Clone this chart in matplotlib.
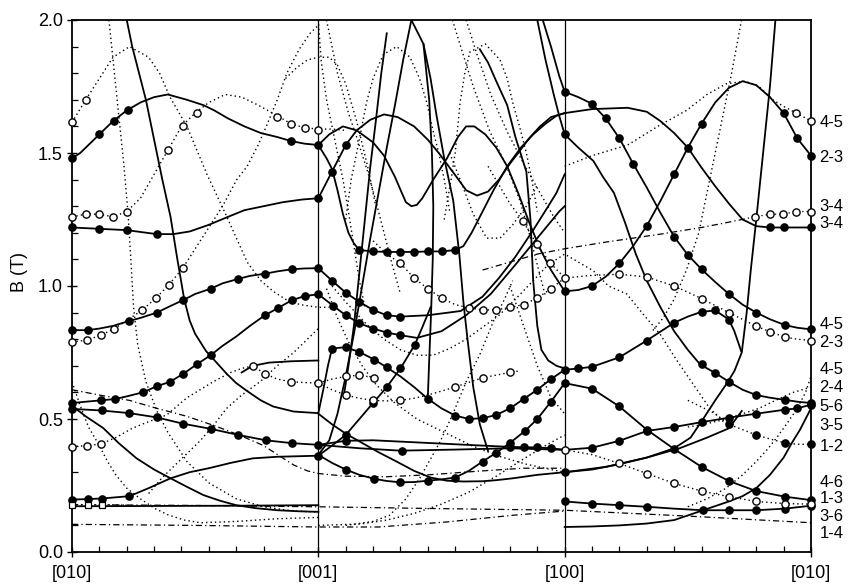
import matplotlib
matplotlib.use("Agg")
import matplotlib.pyplot as plt
from matplotlib.ticker import MultipleLocator, FixedLocator

plt.rcParams['font.family'] = ['Liberation Sans', 'DejaVu Sans']

# kąt w stopniach: [010]=0, [001]=90, [100]=180, [010]=270 ; B w teslach
tick_pos = [0, 90, 180, 270]
tick_txt = ["[010]", "[001]", "[100]", "[010]"]

# --- linie ciągłe (symulacja) ---
s_23 = [(0, 1.48), (3, 1.50), (6, 1.53), (10, 1.57), (15, 1.62), (20, 1.66), (25, 1.69), (30, 1.71), (35, 1.72),
        (42, 1.70), (48, 1.68), (52, 1.66), (57, 1.63), (63, 1.60), (69, 1.575), (75, 1.56), (80, 1.545), (85, 1.535),
        (90, 1.53), (94, 1.57), (99, 1.60), (104, 1.585), (110, 1.54), (114, 1.49), (118, 1.41), (120.5, 1.35),
        (122, 1.315), (124, 1.30), (126, 1.305), (128, 1.33), (132, 1.40), (137, 1.48), (141, 1.56), (144, 1.60),
        (147, 1.60), (151, 1.57), (155, 1.52), (159, 1.45), (163, 1.35), (167, 1.24), (171, 1.14), (175, 1.06),
        (180, 0.98), (185, 0.985), (190, 1.0), (195, 1.035), (200, 1.085), (205, 1.15), (210, 1.226), (215, 1.32),
        (220, 1.42), (225, 1.52), (230, 1.61), (235, 1.69), (240, 1.745), (245, 1.77), (250, 1.755), (255, 1.71),
        (260, 1.65), (265, 1.555), (270, 1.49)]
s_34 = [(0, 1.22), (10, 1.215), (20, 1.21), (31, 1.195), (37, 1.195), (43, 1.205), (50, 1.23), (57, 1.26), (63, 1.285),
        (70, 1.30), (77, 1.315), (84, 1.325), (90, 1.33), (95, 1.43), (100, 1.53), (104, 1.585), (109, 1.625),
        (114, 1.645), (119, 1.635), (125, 1.60), (130, 1.55), (134, 1.50), (140.5, 1.41), (144, 1.36), (148, 1.34),
        (152, 1.355), (156, 1.40), (160, 1.46), (163, 1.50), (167, 1.555), (171, 1.60), (175, 1.635), (180, 1.65),
        (190, 1.665), (203, 1.67), (210, 1.655), (215, 1.62), (220, 1.575), (225, 1.52), (230, 1.445), (235, 1.375),
        (240, 1.31), (245, 1.25), (250, 1.225), (255, 1.22), (260, 1.22), (270, 1.22)]
s_row = [(90, 1.53), (93, 1.48), (95, 1.44), (97, 1.36), (99, 1.27), (101, 1.20), (103, 1.16), (105, 1.135), (110, 1.13),
         (115, 1.128), (120, 1.128), (125, 1.128), (130, 1.13), (135, 1.13), (140, 1.135), (143, 1.15), (146, 1.20),
         (149, 1.26), (154, 1.36), (159, 1.45), (164, 1.52), (168.5, 1.57), (173, 1.61), (177, 1.64), (180, 1.65)]
s_45m = [(0, 0.834), (5.7, 0.834), (10, 0.84), (15, 0.85), (20.7, 0.868), (25, 0.88), (31, 0.90), (36, 0.925),
         (40.6, 0.947), (45, 0.97), (50.7, 0.99), (55, 1.01), (60.5, 1.026), (65, 1.038), (70.4, 1.046), (75, 1.055),
         (80.4, 1.063), (85, 1.066), (90, 1.067), (95, 1.02), (100, 0.975), (105, 0.94), (110, 0.91), (115, 0.89),
         (120, 0.885), (130, 0.89), (142, 0.906), (150, 0.96), (156, 1.03), (162, 1.11), (168.5, 1.21), (174, 1.30),
         (177, 1.35), (180, 1.42)]
s_24 = [(0, 0.56), (5, 0.565), (10.5, 0.57), (15.7, 0.575), (20, 0.585), (25.8, 0.60), (31, 0.623), (35.8, 0.64),
        (40.7, 0.67), (45.5, 0.705), (50.7, 0.74), (55, 0.775), (60, 0.81), (65, 0.85), (70.5, 0.89), (75.4, 0.918),
        (80.4, 0.947), (85, 0.962), (90, 0.969), (95.5, 0.925), (100, 0.89), (105, 0.86), (110, 0.84), (115, 0.825),
        (120, 0.815), (126, 0.805), (135, 0.83), (144, 0.89), (153, 0.97), (162, 1.08), (170, 1.18), (178, 1.28),
        (180, 1.30)]
s_steep = [(20, 2.0), (22, 1.90), (24.5, 1.80), (27, 1.70), (30, 1.55), (33, 1.40), (36, 1.26), (38.5, 1.10),
           (41, 0.95), (43, 0.87), (45, 0.82), (49, 0.755), (53, 0.71), (56.5, 0.67), (60, 0.635), (64, 0.605),
           (69, 0.57), (73.5, 0.547), (81, 0.528), (90, 0.522), (92, 0.62), (93.5, 0.70), (95, 0.765), (100, 0.77),
           (105, 0.752), (110.5, 0.723), (115, 0.694), (120, 0.66), (125, 0.62), (130, 0.576), (135, 0.54),
           (140, 0.513), (145, 0.50), (150, 0.503), (155, 0.515), (160, 0.54), (165, 0.575), (170, 0.61), (175, 0.65),
           (180, 0.685), (185, 0.69), (190, 0.696), (200, 0.732), (210, 0.795), (220, 0.862), (225, 0.885),
           (230, 0.903), (235, 0.908), (240, 0.874), (242, 0.83), (244.5, 0.755)]
s_56 = [(0, 0.538), (10.8, 0.532), (21, 0.522), (31, 0.506), (40.7, 0.482), (50.7, 0.463), (60.8, 0.44), (70.8, 0.42),
        (80.5, 0.409), (90, 0.403), (100, 0.418), (110, 0.42), (120, 0.415), (130, 0.41), (140, 0.405), (150, 0.40),
        (160, 0.395), (170, 0.393), (175, 0.39), (180, 0.384), (190, 0.392), (200, 0.418), (210, 0.455), (220, 0.47),
        (230, 0.488), (240, 0.505), (250, 0.52), (260.5, 0.535), (265, 0.54), (270, 0.554)]
s_56b = [(90, 0.403), (105, 0.39), (120, 0.381), (140, 0.385), (160, 0.39), (180, 0.384)]
s_13 = [(0, 0.197), (5.7, 0.199), (10.8, 0.201), (21, 0.21), (28, 0.24), (36, 0.277), (43, 0.30), (50, 0.315),
        (58, 0.335), (66, 0.352), (75, 0.358), (90, 0.362), (95, 0.40), (100, 0.44), (105, 0.50), (110, 0.56),
        (115, 0.62), (120, 0.69), (125.3, 0.78), (128, 0.845), (131, 0.92)]
s_13b = [(90, 0.365), (95, 0.335), (100, 0.31), (105, 0.29), (110.5, 0.275), (115, 0.267), (120, 0.262), (125, 0.263),
         (130, 0.268), (135, 0.273), (140, 0.28), (145, 0.305), (150, 0.34), (155, 0.373), (160, 0.41),
         (165.5, 0.455), (170, 0.50), (175, 0.565), (180, 0.635), (190, 0.614), (200, 0.547), (210, 0.46),
         (220, 0.387), (230, 0.32), (240, 0.267), (250, 0.229), (260.5, 0.208), (270, 0.195)]
s_fall = [(0, 0.55), (5, 0.51), (11.4, 0.466), (17, 0.41), (23.6, 0.352), (30, 0.31), (36, 0.277), (42, 0.245),
          (48, 0.214), (54, 0.193), (60, 0.176), (67, 0.165), (75, 0.157), (83, 0.153), (90, 0.151)]
s_flat = [(0, 0.172), (30, 0.173), (60, 0.174), (90, 0.176)]
s_U = [(90, 0.52), (95, 0.48), (100, 0.445), (106, 0.41), (112, 0.375), (118.6, 0.34), (125, 0.305), (131, 0.28),
       (137, 0.268), (143, 0.265), (150, 0.266), (155, 0.27), (161, 0.277), (170, 0.29), (180, 0.30), (190, 0.31),
       (200, 0.33), (210, 0.355), (220, 0.39), (226, 0.43), (230.6, 0.50), (235, 0.57), (239, 0.63), (242, 0.68),
       (244.7, 0.75), (246.5, 0.9), (248, 1.06), (250, 1.25), (252.5, 1.5), (255, 1.75), (257, 2.0)]
s_short3 = [(180, 0.30), (195, 0.32), (210, 0.355), (222, 0.39), (232, 0.43), (240, 0.465), (244.7, 0.53)]
s_up3 = [(180, 0.094), (190, 0.096), (200, 0.10), (210, 0.107), (220, 0.12), (230, 0.155), (240, 0.19), (245, 0.21),
         (250, 0.24), (255, 0.29), (260, 0.355), (263, 0.41), (266, 0.46), (270, 0.54)]
s_bot3 = [(180, 0.19), (190, 0.182), (200, 0.176), (210, 0.17), (220, 0.163), (230.4, 0.157), (240, 0.157),
          (250, 0.157), (260.5, 0.163), (270, 0.174)]
s_short1 = [(62, 0.675), (66, 0.70), (72, 0.712), (80, 0.717), (90, 0.72)]
s_top_a = [(172, 2.0), (175, 1.9), (178, 1.79), (180, 1.73), (185, 1.71), (190, 1.685), (195, 1.63), (200, 1.555),
           (205, 1.46), (210, 1.37), (215, 1.275), (220, 1.185), (225, 1.117), (230, 1.063), (235, 1.015),
           (240, 0.97), (245, 0.93), (250, 0.90), (255, 0.875), (260.5, 0.853), (265, 0.843), (270, 0.837)]
s_top_b = [(170, 2.0), (173, 1.85), (176, 1.72), (178, 1.64), (180, 1.57), (185, 1.52), (190.5, 1.47), (194, 1.41),
           (198, 1.35), (202, 1.24), (206, 1.12), (210, 1.02), (215, 0.92), (220, 0.83), (225, 0.76), (229.5, 0.705),
           (235, 0.673), (240, 0.64), (245, 0.61), (250, 0.59), (255, 0.58), (260.5, 0.572), (265, 0.565), (270, 0.56)]
s_L0 = [(115, 1.95), (113, 1.80), (111, 1.62), (109, 1.45), (107.5, 1.30), (106, 1.15), (104.5, 1.0), (103, 0.85),
        (101, 0.70), (99.5, 0.60)]
s_L1 = [(124, 2.0), (121, 1.85), (118, 1.68), (115, 1.52), (112, 1.35), (109, 1.18), (106, 1.0), (103, 0.82),
        (100, 0.66), (97, 0.52), (94, 0.42), (90, 0.365)]
s_V2 = [(124, 2.0), (128.4, 1.91), (131, 1.78), (133.2, 1.64), (136, 1.48), (139.3, 1.32), (141.5, 1.12), (143, 0.94),
        (144.5, 0.80), (146.6, 0.62), (149, 0.48), (152, 0.38)]
s_V1 = [(128.4, 1.91), (130.5, 1.70), (131.5, 1.50), (132, 1.30), (131.8, 1.10), (131.2, 0.90), (130.5, 0.72),
        (130, 0.58)]
s_R1 = [(149, 1.89), (152, 1.84), (155, 1.77), (159, 1.68), (162, 1.56), (166, 1.43), (167.5, 1.25), (168.5, 1.02),
        (170, 0.85), (171.5, 0.76), (174, 0.72), (177, 0.70), (180, 0.69)]

# --- linie kropkowane ---
d_45 = [(0, 1.615), (5, 1.70), (10, 1.78), (15, 1.86), (21, 1.90), (28, 1.86), (32, 1.80), (35.8, 1.71), (42, 1.60),
        (49.3, 1.42), (56.6, 1.26), (64, 1.09), (69, 1.02), (73.5, 0.98), (78, 0.95), (83.3, 0.93), (90, 0.92),
        (94, 0.92)]
d_34 = [(0, 1.26), (5, 1.27), (10, 1.27), (15, 1.26), (20, 1.28), (25, 1.33), (30, 1.42), (35, 1.51), (40, 1.60),
        (45, 1.65), (50, 1.69), (56, 1.72), (62, 1.71), (68, 1.68), (75, 1.64), (80, 1.61), (85, 1.595), (90, 1.59),
        (95, 1.59), (100, 1.585)]
d_23 = [(0, 0.79), (5.4, 0.796), (10.5, 0.815), (15.5, 0.84), (20, 0.87), (25.7, 0.91), (30.7, 0.955), (35.4, 1.005),
        (40.4, 1.066), (45, 1.14), (50, 1.22), (55, 1.30), (60.2, 1.40), (64, 1.45), (68, 1.53), (71, 1.60),
        (75, 1.70), (78.5, 1.80), (83, 1.89), (87, 1.95), (90, 1.98)]
d_45low = [(0, 0.396), (5.4, 0.40), (10.5, 0.406), (16, 0.43), (22, 0.465), (28, 0.49), (34.6, 0.515), (42, 0.58),
           (51.6, 0.64), (58, 0.675), (62, 0.69), (66, 0.70), (70.5, 0.67), (75, 0.65), (80, 0.64), (85, 0.637),
           (90, 0.635), (95, 0.61), (100, 0.59), (105, 0.578), (110, 0.57), (115, 0.568), (120, 0.57), (125, 0.578),
           (130, 0.59), (135, 0.605), (140, 0.62), (145, 0.638), (150, 0.655), (155, 0.665), (160, 0.675),
           (163, 0.68)]
d_oc1 = [(90, 0.635), (95, 0.65), (100, 0.66), (105, 0.665), (110.5, 0.655)]
d_23b = [(110, 1.17), (115, 1.12), (120, 1.085), (125, 1.03), (130, 0.99), (135, 0.955), (140, 0.93), (145, 0.918),
         (150, 0.91), (155, 0.91), (160, 0.92), (165, 0.93), (170, 0.955), (175, 0.99), (180, 1.03), (190, 1.04),
         (200, 1.044), (210, 1.034), (220, 1.0), (230, 0.953), (240, 0.90), (250, 0.849), (255, 0.828),
         (260.5, 0.808), (265, 0.80), (270, 0.795)]
d_23c = [(152, 1.45), (156, 1.38), (160, 1.31), (164.7, 1.245), (169.8, 1.157), (174.6, 1.088), (180, 1.03)]
d_45_3 = [(180, 1.45), (190, 1.49), (203, 1.53), (214, 1.60), (224.5, 1.66), (232, 1.72), (239, 1.76), (246, 1.77),
          (251, 1.75), (256, 1.70), (260, 1.675), (264.7, 1.65), (270, 1.62)]
d_13_3 = [(180, 0.384), (190, 0.366), (200, 0.333), (210, 0.295), (220, 0.258), (230, 0.229), (240, 0.208),
          (250, 0.19), (260.5, 0.182), (270, 0.18)]
d_12 = [(225, 0.57), (230, 0.545), (235, 0.52), (240, 0.48), (245, 0.46), (250, 0.44), (255, 0.425), (260.5, 0.41),
        (265, 0.405), (270, 0.405)]
d_sq = [(0, 0.178), (5.7, 0.178), (10.8, 0.178), (20, 0.176)]
d_a = [(0, 0.64), (3, 0.55), (6, 0.47), (10, 0.40), (13, 0.34), (16, 0.29), (20, 0.24), (25, 0.20), (30, 0.165),
       (35, 0.14), (41, 0.12), (47, 0.11), (60, 0.115), (75, 0.125), (90, 0.13)]
d_b = [(13.5, 2.0), (15, 1.85), (17, 1.65), (19, 1.45), (20.5, 1.27), (21.5, 1.10), (22.5, 0.92), (24, 0.78),
       (27, 0.64), (31, 0.53), (35, 0.45), (42, 0.34), (50, 0.26), (60, 0.2), (70, 0.17), (80, 0.155), (90, 0.15)]
d_f = [(28, 0.22), (33, 0.28), (40, 0.35), (47, 0.42), (52, 0.48), (56.5, 0.54), (62, 0.59), (68.7, 0.64),
       (75, 0.70), (81, 0.75), (86, 0.80), (90, 0.84)]
d_p1 = [(100, 1.25), (102, 1.40), (104, 1.50), (107.6, 1.69), (110, 1.78), (113.7, 1.87), (118.6, 1.90),
        (123.5, 1.86), (127, 1.78), (129.6, 1.69), (132, 1.58), (134, 1.50), (136, 1.40), (138, 1.28)]
d_p2 = [(136, 1.25), (138.5, 1.40), (140, 1.50), (141.8, 1.69), (143.5, 1.80), (145.4, 1.88), (151, 1.91),
        (156.4, 1.85), (159, 1.78), (161, 1.69), (163.5, 1.60), (166, 1.50), (168, 1.40), (170, 1.28)]
d_p3 = [(78, 1.78), (82, 1.82), (86, 1.85), (90, 1.86), (94, 1.86), (97, 1.83), (100, 1.76), (104, 1.62),
        (108, 1.45), (111, 1.30)]
d_s1 = [(90, 2.0), (91, 1.85), (93, 1.70), (96, 1.55), (99, 1.40), (101, 1.28), (103, 1.15), (105, 1.02),
        (107, 0.92)]
d_s2 = [(93, 2.0), (95, 1.90), (97, 1.80), (101, 1.65), (104, 1.56), (108, 1.43), (111, 1.32), (114, 1.20),
        (117, 1.08), (120, 0.97)]
d_s3 = [(139, 2.0), (142, 1.90), (146.6, 1.75), (152.7, 1.58), (158.8, 1.45), (163.7, 1.32), (167, 1.20),
        (170, 1.08), (173, 0.96)]
d_s4 = [(144, 2.0), (148, 1.87), (153, 1.72), (159, 1.58), (165, 1.46), (171, 1.35), (176, 1.26), (180, 1.20)]
d_u1 = [(138, 1.50), (141.8, 1.40), (146.6, 1.27), (151.5, 1.18), (156.4, 1.18), (161, 1.23), (166, 1.30),
        (170, 1.38)]
d_u2 = [(95, 1.0), (100, 0.94), (107.7, 0.855), (114, 0.80), (120, 0.76), (126, 0.74), (132, 0.74), (138, 0.765),
        (144, 0.80), (150, 0.845), (156, 0.89), (162, 0.95), (168.5, 1.02), (174, 1.08), (180, 1.12), (185, 1.09),
        (190.5, 1.057), (196, 1.0), (202.7, 0.97), (209, 0.89), (214.8, 0.82), (221, 0.72), (227, 0.63),
        (233, 0.54), (238, 0.49)]
d_r1 = [(100, 0.10), (110, 0.115), (116, 0.138), (122, 0.2), (127, 0.277), (131, 0.35), (134.5, 0.415),
        (139, 0.515), (144, 0.64), (149, 0.742), (154, 0.868), (158, 0.95), (161, 1.02)]
d_r2 = [(93, 0.99), (97, 0.88), (101, 0.79), (106, 0.70), (111, 0.63), (118, 0.56), (126, 0.50), (136, 0.45),
        (146, 0.40), (156, 0.36), (166, 0.33), (175, 0.31), (180, 0.30)]
d_r3 = [(160, 1.0), (165, 0.85), (170, 0.70), (175, 0.58), (180, 0.52)]
d_r4 = [(90, 0.10), (105, 0.105), (115, 0.12), (125, 0.145), (135, 0.18), (145, 0.225), (155, 0.285), (165, 0.35),
        (173, 0.40), (180, 0.44)]
d_t1 = [(244.6, 2.0), (241, 1.80), (237, 1.60), (233, 1.40), (229, 1.20), (224.5, 1.06), (220, 0.95), (216, 0.88),
        (212, 0.83)]
d_t4 = [(225, 0.47), (231, 0.48), (239, 0.50), (245, 0.52), (251, 0.54), (257, 0.57), (263.5, 0.60), (270, 0.62)]
d_t7 = [(225, 0.17), (232, 0.20), (239, 0.24), (245, 0.29), (250, 0.34), (254, 0.385), (257.5, 0.43), (261, 0.48),
        (265, 0.54), (268, 0.60), (270, 0.66)]

# --- linie kreska-kropka ---
dd_1 = [(0, 0.104), (45, 0.10), (90, 0.094), (112, 0.094), (137, 0.113), (161, 0.138), (180, 0.154)]
dd_2 = [(0, 0.178), (45, 0.175), (90, 0.17), (135, 0.163), (180, 0.157), (225, 0.135), (270, 0.11)]
dd_3 = [(0, 0.61), (10, 0.59), (21, 0.57), (31, 0.54), (42, 0.51), (52, 0.475), (61, 0.44), (70, 0.40), (76, 0.36),
        (81, 0.327), (86, 0.305), (90, 0.295), (100, 0.285), (115, 0.283), (130, 0.29), (150, 0.305), (165, 0.315),
        (180, 0.315)]
dd_34 = [(150, 1.06), (160, 1.09), (170, 1.12), (180, 1.14), (195, 1.165), (215, 1.195), (230, 1.22), (240, 1.24),
         (249.5, 1.26), (255, 1.27), (259.6, 1.27), (264.7, 1.28), (270, 1.28)]

# --- punkty pomiarowe ---
dots_full = [(0, 1.48), (10, 1.57), (15.5, 1.62), (20.5, 1.66), (80, 1.545), (90, 1.53), (180, 0.98), (190, 1.0),
             (200, 1.085), (210, 1.226), (220, 1.42), (225, 1.52), (230, 1.61), (260, 1.65), (265, 1.555), (270, 1.49),
             (0, 1.22), (10, 1.215), (20, 1.21), (31, 1.195), (90, 1.33), (95, 1.43), (100, 1.53), (255, 1.22),
             (260, 1.22), (270, 1.22),
             (105, 1.135), (110, 1.13), (115, 1.128), (120, 1.128), (125, 1.128), (130, 1.13), (135, 1.13),
             (140, 1.135),
             (0, 0.834), (5.7, 0.834), (20.7, 0.868), (31, 0.90), (40.6, 0.947), (50.7, 0.99), (60.5, 1.026),
             (70.4, 1.046), (80.4, 1.063), (90, 1.067), (95, 1.02), (100, 0.975), (105, 0.94), (110, 0.91),
             (115, 0.89), (120, 0.885),
             (0, 0.56), (10.5, 0.57), (15.7, 0.575), (25.8, 0.60), (31, 0.623), (35.8, 0.64), (40.7, 0.67),
             (45.5, 0.705), (50.7, 0.74), (70.5, 0.89), (75.4, 0.918), (80.4, 0.947), (85, 0.962), (90, 0.969),
             (95.5, 0.925), (100, 0.89), (105, 0.86), (110, 0.84), (115, 0.825), (120, 0.815),
             (95, 0.765), (100, 0.77), (105, 0.752), (110.5, 0.723), (115, 0.694), (130, 0.576), (140, 0.513),
             (145, 0.50), (150, 0.503), (155, 0.515), (160, 0.54), (165, 0.575), (170, 0.61), (175, 0.65),
             (180, 0.685), (185, 0.69), (190, 0.696), (200, 0.732), (210, 0.795), (220, 0.862), (230, 0.903),
             (235, 0.908), (240, 0.874),
             (0, 0.538), (10.8, 0.532), (21, 0.522), (31, 0.506), (40.7, 0.482), (50.7, 0.463), (60.8, 0.44),
             (70.8, 0.42), (80.5, 0.409), (90, 0.403), (100, 0.418), (120.5, 0.381), (160, 0.395), (165, 0.394),
             (170, 0.393), (175, 0.39), (190, 0.392), (200, 0.418), (210, 0.455), (220, 0.47), (230, 0.488),
             (240, 0.505), (250, 0.52), (260.5, 0.535), (265, 0.54), (270, 0.554),
             (0, 0.197), (5.7, 0.199), (10.8, 0.201), (21, 0.21), (90, 0.362), (100, 0.44), (110, 0.56), (115, 0.62),
             (120, 0.69), (125.3, 0.78),
             (100, 0.31), (110.5, 0.275), (120, 0.262), (130, 0.268), (140, 0.28), (150, 0.34), (155, 0.373),
             (160, 0.41), (165.5, 0.455), (170, 0.50), (175, 0.565), (180, 0.635), (190, 0.614), (200, 0.547),
             (210, 0.46), (220, 0.387), (230, 0.32), (240, 0.267), (250, 0.229), (260.5, 0.208), (270, 0.195),
             (180, 1.73), (190, 1.685), (195, 1.63), (200, 1.555), (205, 1.46), (220, 1.185), (225, 1.117),
             (230, 1.063), (240, 0.97), (250, 0.90), (260.5, 0.853), (270, 0.837),
             (180, 1.57), (230, 0.705), (235, 0.673), (240, 0.64), (250, 0.59), (260.5, 0.572), (270, 0.56),
             (240, 0.48), (250, 0.44), (260.5, 0.41), (270, 0.405),
             (180, 0.19), (190, 0.182), (200, 0.176), (210, 0.17), (230.4, 0.157), (240, 0.157), (250, 0.157),
             (260.5, 0.163), (270, 0.174), (180, 0.30)]
dots_open = [(0, 1.615), (5, 1.70), (264.7, 1.65), (270, 1.62),
             (0, 1.26), (5, 1.27), (10, 1.27), (15, 1.26), (20, 1.28), (35.2, 1.51), (40.4, 1.60), (45.6, 1.65),
             (74.8, 1.635), (80, 1.61), (85, 1.594), (90, 1.587), (249.5, 1.26), (255, 1.27), (259.6, 1.27),
             (264.7, 1.28), (270, 1.28),
             (0, 0.79), (5.4, 0.796), (10.5, 0.815), (15.5, 0.84), (25.7, 0.91), (30.7, 0.955), (35.4, 1.005),
             (40.4, 1.066), (120, 1.085), (125, 1.03), (130, 0.99), (135, 0.955), (145, 0.918), (150, 0.91),
             (155, 0.91), (160, 0.92), (165, 0.93), (170, 0.955), (175, 0.99), (180, 1.03), (164.7, 1.245),
             (169.8, 1.157), (174.6, 1.088), (200, 1.044), (210, 1.034), (220, 1.0), (230, 0.953), (240, 0.90),
             (250, 0.849), (255, 0.828), (260.5, 0.808), (270, 0.795),
             (0, 0.396), (5.4, 0.40), (10.5, 0.406), (66, 0.70), (70.5, 0.67), (80, 0.64), (90, 0.635),
             (100, 0.66), (105, 0.665), (110.5, 0.655), (100, 0.59), (110, 0.57), (120, 0.57), (140, 0.62),
             (150, 0.655), (160, 0.675),
             (180, 0.384), (200, 0.333), (210, 0.295), (220, 0.258), (230, 0.229), (240, 0.208), (250, 0.19),
             (260.5, 0.182), (270, 0.18)]
dots_sq = [(0, 0.178), (5.7, 0.178), (10.8, 0.178)]

# podpisy przejść po prawej stronie
pair_labels = ["4-5", "2-3", "3-4", "3-4", "4-5", "2-3", "4-5", "2-4", "5-6", "3-5", "1-2", "4-6", "1-3", "3-6", "1-4"]
pair_b = [1.616, 1.483, 1.30, 1.235, 0.855, 0.789, 0.686, 0.619, 0.547, 0.475, 0.396, 0.26, 0.20, 0.132, 0.069]

solid_curves = [s_23, s_34, s_row, s_45m, s_24, s_steep, s_56, s_56b, s_13, s_13b, s_fall, s_flat, s_U, s_short3,
                s_up3, s_bot3, s_short1, s_top_a, s_top_b, s_L0, s_L1, s_V2, s_V1, s_R1]
dotted_curves = [d_45, d_34, d_23, d_45low, d_oc1, d_23b, d_23c, d_45_3, d_13_3, d_12, d_sq, d_a, d_b, d_f, d_p1,
                 d_p2, d_p3, d_s1, d_s2, d_s3, d_s4, d_u1, d_u2, d_r1, d_r2, d_r3, d_r4, d_t1, d_t4, d_t7]
dashdot_curves = [dd_1, dd_2, dd_3, dd_34]


def xy(pts):
    return [p[0] for p in pts], [p[1] for p in pts]


fig = plt.figure(figsize=(8.53, 5.84), dpi=100)
ax = fig.add_axes([72 / 853, 1 - 552 / 584, 739 / 853, 532 / 584])

for pts in dotted_curves:
    ax.plot(*xy(pts), color='black', lw=1.0, linestyle=(0, (1, 2.2)), zorder=1)
for pts in dashdot_curves:
    ax.plot(*xy(pts), color='black', lw=0.9, linestyle=(0, (5, 2.5, 1, 2.5)), zorder=1)
for pts in solid_curves:
    ax.plot(*xy(pts), color='black', lw=1.3, zorder=2)

ax.axvline(90, color='black', lw=0.9, zorder=2)
ax.axvline(180, color='black', lw=0.9, zorder=2)

ax.plot(*xy(dots_full), linestyle='none', marker='o', ms=5.2, mfc='black', mec='black', zorder=4, clip_on=False)
ax.plot(*xy(dots_open), linestyle='none', marker='o', ms=5.2, mfc='white', mec='black', mew=1.0, zorder=4,
        clip_on=False)
ax.plot(*xy(dots_sq), linestyle='none', marker='s', ms=4, mfc='white', mec='black', mew=0.9, zorder=4, clip_on=False)

ax.set_xlim(0, 270)
ax.set_ylim(0, 2.0)
ax.xaxis.set_major_locator(FixedLocator(tick_pos))
ax.set_xticklabels(tick_txt)
ax.xaxis.set_minor_locator(MultipleLocator(10))
ax.yaxis.set_major_locator(MultipleLocator(0.5))
ax.yaxis.set_minor_locator(MultipleLocator(0.1))
ax.tick_params(axis='both', which='major', direction='inout', length=7, width=1.0, labelsize=13, pad=3)
ax.tick_params(axis='both', which='minor', direction='in', length=4, width=0.9)
ax.tick_params(axis='x', which='major', pad=6)
for sp in ax.spines.values():
    sp.set_linewidth(1.3)

fig.text(19 / 853, 1 - 272 / 584, "B (T)", rotation=90, ha='center', va='center', fontsize=13)

for txt, b in zip(pair_labels, pair_b):
    ax.annotate(txt, xy=(270, b), xytext=(6, 0), textcoords='offset points', ha='left', va='center',
                fontsize=12, annotation_clip=False)

fig.savefig("out.png", dpi=100)
